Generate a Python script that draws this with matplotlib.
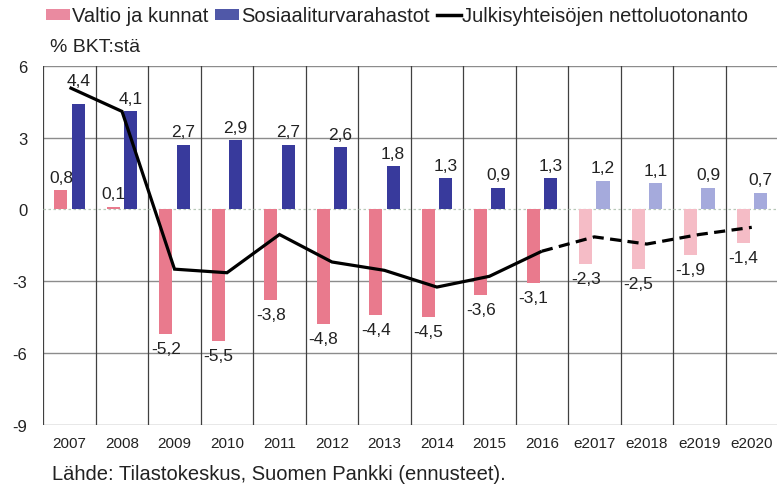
import matplotlib
matplotlib.use("Agg")
import matplotlib.pyplot as plt
from matplotlib.patches import Patch
from matplotlib.lines import Line2D
import numpy as np

plt.rcParams['font.family'] = ['Liberation Sans', 'DejaVu Sans']

categories = ['2007', '2008', '2009', '2010', '2011', '2012', '2013', '2014',
              '2015', '2016', 'e2017', 'e2018', 'e2019', 'e2020']
valtio = [0.8, 0.1, -5.2, -5.5, -3.8, -4.8, -4.4, -4.5, -3.6, -3.1, -2.3, -2.5, -1.9, -1.4]
sosiaali = [4.4, 4.1, 2.7, 2.9, 2.7, 2.6, 1.8, 1.3, 0.9, 1.3, 1.2, 1.1, 0.9, 0.7]
netto = [5.1, 4.1, -2.5, -2.65, -1.05, -2.2, -2.55, -3.25, -2.8, -1.75, -1.15, -1.45, -1.05, -0.75]
n_actual = 10  # first 10 are actual, rest forecasts

W, H = 777, 489
fig = plt.figure(figsize=(W / 100, H / 100), dpi=100)
ax = fig.add_axes([43.3 / W, 1 - 425.5 / H, (778 - 43.3) / W, (425.5 - 67) / H])

x = np.arange(len(categories))
pink = '#e97a8d'
blue = '#383a9c'
pink_f = '#f5bcc6'
blue_f = '#a5aadc'
pcols = [pink if i < n_actual else pink_f for i in x]
bcols = [blue if i < n_actual else blue_f for i in x]

off = 0.165
bw = 0.25
ax.bar(x - off, valtio, width=bw, color=pcols, zorder=3)
ax.bar(x + off, sosiaali, width=bw, color=bcols, zorder=3)

# line
xs = list(x)
ax.plot(xs[:n_actual], netto[:n_actual], color='black', lw=2.3, zorder=5,
        solid_capstyle='butt', solid_joinstyle='miter')
ax.plot(xs[n_actual - 1:], netto[n_actual - 1:], color='black', lw=2.3, zorder=5,
        dashes=(3.5, 2), dash_capstyle='butt')

ax.set_xlim(-0.5, 13.5)
ax.set_ylim(-9, 6)

# grid lines
for yv in [6, 3, -3, -6, -9]:
    ax.axhline(yv, color='#8c8c8c', lw=1.0, zorder=1)
ax.axhline(0, color='#b8c8b8', lw=0.9, ls=(0, (2, 2)), zorder=2)
for xv in np.arange(-0.5, 13.0, 1.0):
    ax.axvline(xv, color='#404040', lw=0.9, zorder=1)

for s in ax.spines.values():
    s.set_visible(False)

ax.set_yticks([6, 3, 0, -3, -6, -9])
ax.set_yticklabels(['6', '3', '0', '-3', '-6', '-9'], fontsize=12, color='#222222')
ax.set_xticks(x)
ax.set_xticklabels(categories, fontsize=11, color='#222222')
ax.tick_params(axis='both', length=0)
ax.tick_params(axis='y', pad=11.5)
ax.tick_params(axis='x', pad=8)

def fmt(v):
    return ('%.1f' % v).replace('.', ',')

lab_kw = dict(fontsize=12.5, color='#222222', ha='center', zorder=6)
for i in x:
    v = sosiaali[i]
    extra = 8 if i == 0 else 0
    ax.annotate(fmt(v), (i + off, v), xytext=(0, 4 + extra), textcoords='offset points',
                va='bottom', **lab_kw)
    v = valtio[i]
    if v >= 0:
        ax.annotate(fmt(v), (i - off, v), xytext=(0, 4), textcoords='offset points',
                    va='bottom', **lab_kw)
    else:
        ax.annotate(fmt(v), (i - off, v), xytext=(0, -5), textcoords='offset points',
                    va='top', **lab_kw)

fig.text(49.5 / W, 1 - 47 / H, '% BKT:stä', fontsize=14, color='#222222', va='center', ha='left')
fig.text(52 / W, 1 - 475 / H, 'Lähde: Tilastokeskus, Suomen Pankki (ennusteet).',
         fontsize=14.5, color='#222222', va='center', ha='left')

handles = [Patch(facecolor='#ea8aa0', edgecolor='none'),
           Patch(facecolor='#5058a8', edgecolor='none'),
           Line2D([0], [0], color='black', lw=2.5)]
labels = ['Valtio ja kunnat', 'Sosiaaliturvarahastot', 'Julkisyhteisöjen nettoluotonanto']
fig.legend(handles, labels, loc='center left', bbox_to_anchor=(46 / W, 1 - 17 / H),
           ncol=3, frameon=False, fontsize=14.5, handlelength=1.2, handleheight=0.5,
           handletextpad=0.08, columnspacing=0.35, borderpad=0, borderaxespad=0,
           labelcolor='#222222')

fig.savefig('out.png', dpi=100)
